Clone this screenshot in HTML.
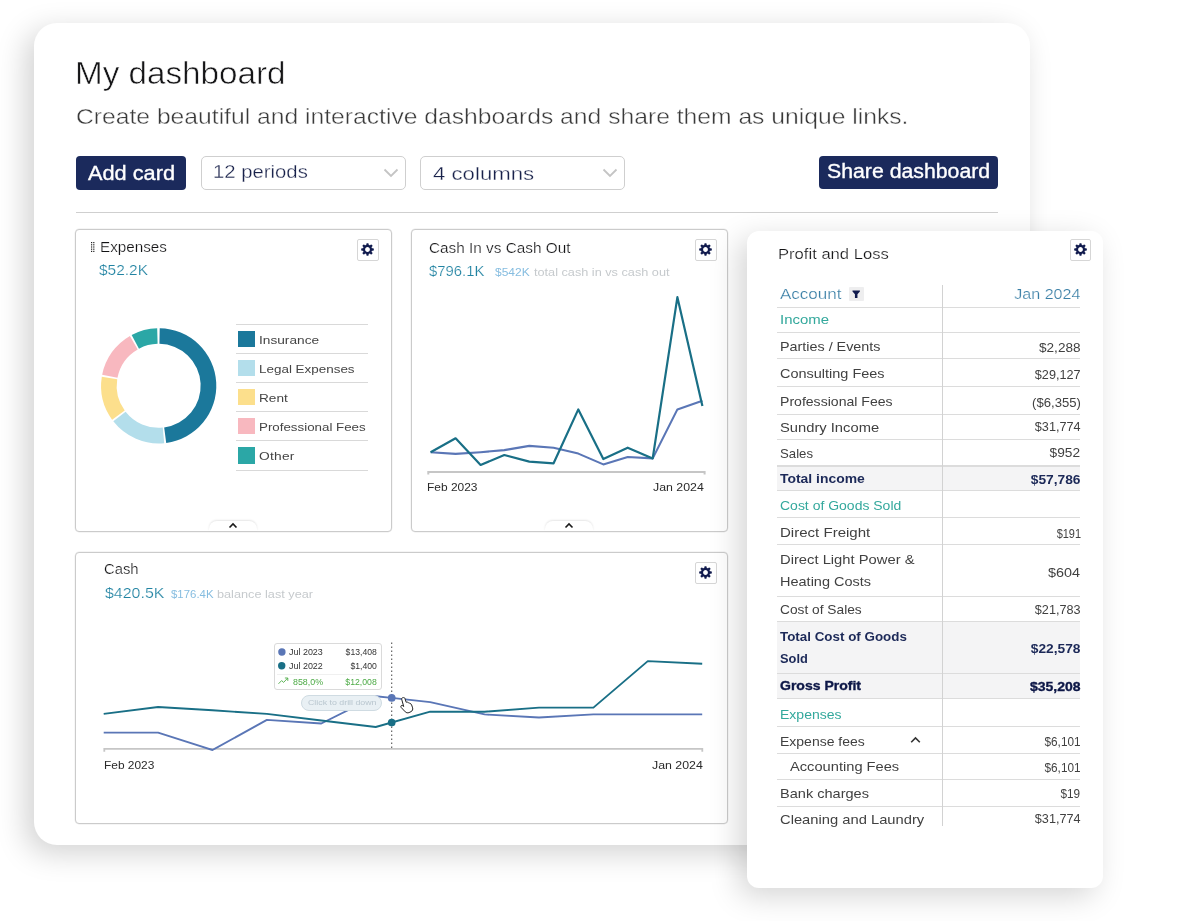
<!DOCTYPE html>
<html><head><meta charset="utf-8"><title>My dashboard</title>
<style>
*{box-sizing:border-box;margin:0;padding:0}
html,body{width:1200px;height:921px;overflow:hidden;background:#fff}
body{position:relative;font-family:"Liberation Sans",sans-serif;}
.t{position:absolute;white-space:nowrap;line-height:1;display:block}
.a{position:absolute}
.card{position:absolute;background:#fff;border:1px solid #cbcbcb;border-radius:4px;box-shadow:0 0 0 .4px rgba(0,0,0,.08)}
.gear{position:absolute;width:21.5px;height:21.5px;border:1px solid #d6d6d6;border-radius:2px;background:#fff}
.gear svg{position:absolute;left:2.25px;top:2.25px}
.hl{position:absolute;height:1px;background:#dcdcdc}
.tab{position:absolute;height:10.2px;width:48px;background:#fff;border-radius:8px 8px 0 0;box-shadow:0 -1px 2px rgba(0,0,0,.10)}
</style></head><body><div id="root" style="position:absolute;left:0;top:0;width:1200px;height:921px;will-change:transform">

<div class="a" style="left:33.5px;top:22.5px;width:996.5px;height:822.7px;background:#fff;border-radius:23px;box-shadow:-8px 8px 30px rgba(0,0,0,.18)"></div>
<span class="t" style="top:59px;font-size:30.9px;color:#151517;left:74.60px;transform-origin:0 50%;transform:scaleX(1.0758);-webkit-text-stroke:.55px #fff;">My dashboard</span>
<span class="t" style="top:106px;font-size:22.2px;color:#3a3a3a;left:76.30px;transform-origin:0 50%;transform:scaleX(1.1119);-webkit-text-stroke:.4px #fff;">Create beautiful and interactive dashboards and share them as unique links.</span>
<div class="a" style="left:76px;top:156px;width:110px;height:33.5px;background:#1b2a5c;border-radius:4px"></div>
<span class="t" style="top:164px;font-size:19.8px;color:#fff;left:88.00px;transform-origin:0 50%;transform:scaleX(1.0987);-webkit-text-stroke:.35px #fff;">Add card</span>
<div class="a" style="left:818.5px;top:156px;width:179.7px;height:33.3px;background:#1b2a5c;border-radius:4px"></div>
<span class="t" style="top:162px;font-size:19.6px;color:#fff;left:826.60px;transform-origin:0 50%;transform:scaleX(1.0855);-webkit-text-stroke:.35px #fff;">Share dashboard</span>
<div class="a" style="left:201px;top:156px;width:205px;height:33.5px;border:1px solid #cfcfcf;border-radius:5px;background:#fff"></div>
<span class="t" style="top:162px;font-size:19.2px;color:#18214a;left:213.20px;transform-origin:0 50%;transform:scaleX(1.0579);-webkit-text-stroke:.3px #fff;">12 periods</span>
<svg class="a" style="left:382px;top:166px" width="18" height="14" viewBox="0 0 18 14"><path d="M2.5 3.5 L9 10 L15.5 3.5" fill="none" stroke="#c4c4c4" stroke-width="1.8"/></svg>
<div class="a" style="left:420px;top:156px;width:205px;height:33.5px;border:1px solid #cfcfcf;border-radius:5px;background:#fff"></div>
<span class="t" style="top:164px;font-size:19.2px;color:#18214a;left:432.80px;transform-origin:0 50%;transform:scaleX(1.1572);-webkit-text-stroke:.3px #fff;">4 columns</span>
<svg class="a" style="left:601px;top:166px" width="18" height="14" viewBox="0 0 18 14"><path d="M2.5 3.5 L9 10 L15.5 3.5" fill="none" stroke="#c4c4c4" stroke-width="1.8"/></svg>
<div class="a" style="left:76px;top:211.5px;width:922px;height:1px;background:#cfcfcf"></div>
<div class="card" style="left:75px;top:229px;width:316.5px;height:302.5px"></div>
<div class="gear" style="left:357px;top:239.2px"><svg width="15" height="15" viewBox="-8 -8 16 16"><g fill="#111b4e"><circle r="3.75" fill="none" stroke="#111b4e" stroke-width="2.4"/><rect x="-1.25" y="-6.75" width="2.5" height="2.7" rx="0.8" transform="rotate(0)"/><rect x="-1.25" y="-6.75" width="2.5" height="2.7" rx="0.8" transform="rotate(45)"/><rect x="-1.25" y="-6.75" width="2.5" height="2.7" rx="0.8" transform="rotate(90)"/><rect x="-1.25" y="-6.75" width="2.5" height="2.7" rx="0.8" transform="rotate(135)"/><rect x="-1.25" y="-6.75" width="2.5" height="2.7" rx="0.8" transform="rotate(180)"/><rect x="-1.25" y="-6.75" width="2.5" height="2.7" rx="0.8" transform="rotate(225)"/><rect x="-1.25" y="-6.75" width="2.5" height="2.7" rx="0.8" transform="rotate(270)"/><rect x="-1.25" y="-6.75" width="2.5" height="2.7" rx="0.8" transform="rotate(315)"/></g></svg></div>
<div class="tab" style="left:209px;top:520.5px"><svg class="a" style="left:19px;top:1.7px" width="10" height="7" viewBox="0 0 10 7"><path d="M1.5 5.5 L5 2.0 L8.5 5.5" fill="none" stroke="#1a1a1a" stroke-width="1.6"/></svg></div>
<div class="card" style="left:411px;top:229px;width:316.5px;height:302.5px"></div>
<div class="gear" style="left:695px;top:239.2px"><svg width="15" height="15" viewBox="-8 -8 16 16"><g fill="#111b4e"><circle r="3.75" fill="none" stroke="#111b4e" stroke-width="2.4"/><rect x="-1.25" y="-6.75" width="2.5" height="2.7" rx="0.8" transform="rotate(0)"/><rect x="-1.25" y="-6.75" width="2.5" height="2.7" rx="0.8" transform="rotate(45)"/><rect x="-1.25" y="-6.75" width="2.5" height="2.7" rx="0.8" transform="rotate(90)"/><rect x="-1.25" y="-6.75" width="2.5" height="2.7" rx="0.8" transform="rotate(135)"/><rect x="-1.25" y="-6.75" width="2.5" height="2.7" rx="0.8" transform="rotate(180)"/><rect x="-1.25" y="-6.75" width="2.5" height="2.7" rx="0.8" transform="rotate(225)"/><rect x="-1.25" y="-6.75" width="2.5" height="2.7" rx="0.8" transform="rotate(270)"/><rect x="-1.25" y="-6.75" width="2.5" height="2.7" rx="0.8" transform="rotate(315)"/></g></svg></div>
<div class="tab" style="left:545px;top:520.5px"><svg class="a" style="left:19px;top:1.7px" width="10" height="7" viewBox="0 0 10 7"><path d="M1.5 5.5 L5 2.0 L8.5 5.5" fill="none" stroke="#1a1a1a" stroke-width="1.6"/></svg></div>
<div class="card" style="left:75px;top:552px;width:652.5px;height:271.5px"></div>
<div class="gear" style="left:695px;top:562.2px"><svg width="15" height="15" viewBox="-8 -8 16 16"><g fill="#111b4e"><circle r="3.75" fill="none" stroke="#111b4e" stroke-width="2.4"/><rect x="-1.25" y="-6.75" width="2.5" height="2.7" rx="0.8" transform="rotate(0)"/><rect x="-1.25" y="-6.75" width="2.5" height="2.7" rx="0.8" transform="rotate(45)"/><rect x="-1.25" y="-6.75" width="2.5" height="2.7" rx="0.8" transform="rotate(90)"/><rect x="-1.25" y="-6.75" width="2.5" height="2.7" rx="0.8" transform="rotate(135)"/><rect x="-1.25" y="-6.75" width="2.5" height="2.7" rx="0.8" transform="rotate(180)"/><rect x="-1.25" y="-6.75" width="2.5" height="2.7" rx="0.8" transform="rotate(225)"/><rect x="-1.25" y="-6.75" width="2.5" height="2.7" rx="0.8" transform="rotate(270)"/><rect x="-1.25" y="-6.75" width="2.5" height="2.7" rx="0.8" transform="rotate(315)"/></g></svg></div>
<svg class="a" style="left:90.8px;top:242.2px" width="5" height="11" viewBox="0 0 5 11"><rect x="0" y="0" width="1.2" height="1.2" fill="#222"/><rect x="0" y="2.2" width="1.2" height="1.2" fill="#222"/><rect x="0" y="4.4" width="1.2" height="1.2" fill="#222"/><rect x="0" y="6.6" width="1.2" height="1.2" fill="#222"/><rect x="0" y="8.8" width="1.2" height="1.2" fill="#222"/><rect x="2.2" y="0" width="1.2" height="1.2" fill="#222"/><rect x="2.2" y="2.2" width="1.2" height="1.2" fill="#222"/><rect x="2.2" y="4.4" width="1.2" height="1.2" fill="#222"/><rect x="2.2" y="6.6" width="1.2" height="1.2" fill="#222"/><rect x="2.2" y="8.8" width="1.2" height="1.2" fill="#222"/></svg>
<span class="t" style="top:241px;font-size:13.8px;color:#121214;left:99.60px;transform-origin:0 50%;transform:scaleX(1.1024);-webkit-text-stroke:0.22px #fff;">Expenses</span>
<span class="t" style="top:262px;font-size:15.5px;color:#2183a2;left:99.00px;transform-origin:0 50%;transform:scaleX(0.9971);-webkit-text-stroke:0.22px #fff;">$52.2K</span>
<svg class="a" style="left:0;top:0" width="1200" height="921" viewBox="0 0 1200 921"><path d="M159.71 328.21 A57.6 57.6 0 0 1 166.22 442.91 L164.18 427.44 A42.0 42.0 0 0 0 159.43 343.81 Z" fill="#1b789b"/><path d="M164.22 443.13 A57.6 57.6 0 0 1 113.31 421.26 L125.60 411.66 A42.0 42.0 0 0 0 162.73 427.61 Z" fill="#b3deeb"/><path d="M112.10 419.66 A57.6 57.6 0 0 1 101.81 376.79 L117.22 379.23 A42.0 42.0 0 0 0 124.72 410.49 Z" fill="#fcdf8c"/><path d="M102.16 374.81 A57.6 57.6 0 0 1 129.90 335.92 L137.70 349.43 A42.0 42.0 0 0 0 117.47 377.79 Z" fill="#f8b8bf"/><path d="M131.66 334.94 A57.6 57.6 0 0 1 157.19 328.22 L157.60 343.81 A42.0 42.0 0 0 0 138.98 348.72 Z" fill="#2ba7a6"/></svg>
<div class="hl" style="left:235.5px;top:323.8px;width:132px;background:#d9d9d9"></div>
<div class="hl" style="left:235.5px;top:352.6px;width:132px;background:#d9d9d9"></div>
<div class="hl" style="left:235.5px;top:381.8px;width:132px;background:#d9d9d9"></div>
<div class="hl" style="left:235.5px;top:411.1px;width:132px;background:#d9d9d9"></div>
<div class="hl" style="left:235.5px;top:440.3px;width:132px;background:#d9d9d9"></div>
<div class="hl" style="left:235.5px;top:469.5px;width:132px;background:#d9d9d9"></div>
<div class="a" style="left:238.3px;top:330.6px;width:16.6px;height:16.3px;background:#1b789b"></div>
<span class="t" style="top:335px;font-size:11.1px;color:#444;left:259.20px;transform-origin:0 50%;transform:scaleX(1.2332);">Insurance</span>
<div class="a" style="left:238.3px;top:359.6px;width:16.6px;height:16.3px;background:#b3deeb"></div>
<span class="t" style="top:364px;font-size:11.1px;color:#444;left:259.20px;transform-origin:0 50%;transform:scaleX(1.2108);">Legal Expenses</span>
<div class="a" style="left:238.3px;top:388.9px;width:16.6px;height:16.3px;background:#fcdf8c"></div>
<span class="t" style="top:393px;font-size:11.1px;color:#444;left:259.20px;transform-origin:0 50%;transform:scaleX(1.2288);">Rent</span>
<div class="a" style="left:238.3px;top:418.1px;width:16.6px;height:16.3px;background:#f8b8bf"></div>
<span class="t" style="top:422px;font-size:11.1px;color:#444;left:259.20px;transform-origin:0 50%;transform:scaleX(1.2016);">Professional Fees</span>
<div class="a" style="left:238.3px;top:447.3px;width:16.6px;height:16.3px;background:#2ba7a6"></div>
<span class="t" style="top:451px;font-size:11.1px;color:#444;left:259.20px;transform-origin:0 50%;letter-spacing:0.200px;transform:scaleX(1.2400);">Other</span>
<span class="t" style="top:242px;font-size:13.8px;color:#121214;left:428.80px;transform-origin:0 50%;transform:scaleX(1.1116);-webkit-text-stroke:0.22px #fff;">Cash In vs Cash Out</span>
<span class="t" style="top:263px;font-size:15.5px;color:#2183a2;left:429.20px;transform-origin:0 50%;transform:scaleX(0.9576);-webkit-text-stroke:0.22px #fff;">$796.1K</span>
<span class="t" style="top:267px;font-size:11.0px;color:#86bde0;left:494.90px;transform-origin:0 50%;transform:scaleX(1.0908);">$542K</span>
<span class="t" style="top:267px;font-size:11.0px;color:#c6cacd;left:534.20px;transform-origin:0 50%;transform:scaleX(1.1541);">total cash in vs cash out</span>
<svg class="a" style="left:0;top:0" width="1200" height="921" viewBox="0 0 1200 921"><path d="M428.3 474.5 V471.9 H704.6 V474.5" fill="none" stroke="#c6c6c6" stroke-width="2"/><polyline points="430.6,452.2 455.6,453.9 480.6,452.2 504.3,450.1 529.3,445.9 553.6,447.7 578.3,453.6 603.3,464.4 627.7,457.0 652.7,458.4 677.4,409.4 702.4,400.7" fill="none" stroke="#5a76b6" stroke-width="2.1" stroke-linejoin="round" stroke-linecap="butt"/><polyline points="430.6,452.2 455.6,438.3 480.6,465.0 504.3,455.0 529.3,461.6 553.6,463.3 578.3,409.4 603.3,459.1 627.7,447.7 652.7,458.4 677.4,297.2 702.4,406.0" fill="none" stroke="#196f86" stroke-width="2.2" stroke-linejoin="round" stroke-linecap="butt"/></svg>
<span class="t" style="top:482px;font-size:10.9px;color:#2a2a2a;left:427.40px;transform-origin:0 50%;transform:scaleX(1.0971);">Feb 2023</span>
<span class="t" style="top:482px;font-size:10.9px;color:#2a2a2a;right:495.80px;transform-origin:100% 50%;transform:scaleX(1.1336);">Jan 2024</span>
<span class="t" style="top:563px;font-size:13.8px;color:#121214;left:104.30px;transform-origin:0 50%;transform:scaleX(1.0739);-webkit-text-stroke:0.22px #fff;">Cash</span>
<span class="t" style="top:585px;font-size:15.4px;color:#2183a2;left:105.20px;transform-origin:0 50%;transform:scaleX(1.0359);-webkit-text-stroke:0.22px #fff;">$420.5K</span>
<span class="t" style="top:589px;font-size:11.0px;color:#86bde0;left:170.50px;transform-origin:0 50%;transform:scaleX(1.0370);">$176.4K</span>
<span class="t" style="top:589px;font-size:11.0px;color:#c6cacd;left:216.50px;transform-origin:0 50%;transform:scaleX(1.1542);">balance last year</span>
<svg class="a" style="left:0;top:0" width="1200" height="921" viewBox="0 0 1200 921"><path d="M104.3 751.8 V748.9 H702.3 V751.8" fill="none" stroke="#c6c6c6" stroke-width="1.8"/><line x1="391.7" y1="642.5" x2="391.7" y2="749" stroke="#555" stroke-width="1.1" stroke-dasharray="1.6 2.4"/><polyline points="103.7,732.6 158.1,732.6 212.5,750.0 266.9,719.9 321.3,723.5 375.7,696.3 391.7,697.9 430.2,702.1 484.6,714.4 539.0,717.5 593.4,714.4 647.8,714.4 702.2,714.4" fill="none" stroke="#5a76b6" stroke-width="1.9" stroke-linejoin="round" stroke-linecap="butt"/><polyline points="103.7,713.9 158.1,707.0 212.5,710.3 266.9,713.9 321.3,720.5 375.7,727.0 430.2,711.7 484.6,711.7 539.0,707.6 593.4,707.6 647.8,661.1 702.2,663.8" fill="none" stroke="#196f86" stroke-width="1.9" stroke-linejoin="round" stroke-linecap="butt"/><circle cx="391.7" cy="697.9" r="3.85" fill="#5a76b6"/><circle cx="391.7" cy="722.6" r="3.85" fill="#196f86"/></svg>
<span class="t" style="top:760px;font-size:10.9px;color:#2a2a2a;left:103.60px;transform-origin:0 50%;transform:scaleX(1.0949);">Feb 2023</span>
<span class="t" style="top:760px;font-size:10.9px;color:#2a2a2a;right:497.70px;transform-origin:100% 50%;transform:scaleX(1.1336);">Jan 2024</span>
<div class="a" style="left:273.5px;top:643px;width:108.5px;height:47px;background:#fff;border:1px solid #dadada;border-radius:3px"></div>
<div class="hl" style="left:277px;top:673.5px;width:101px;background:#f0f0f0"></div>
<svg class="a" style="left:276px;top:646px" width="12" height="26" viewBox="276 646 12 26"><circle cx="281.9" cy="652" r="3.7" fill="#5a76b6"/><circle cx="281.7" cy="665.8" r="3.7" fill="#196f86"/></svg>
<span class="t" style="top:648px;font-size:8.8px;color:#333;left:288.60px;transform-origin:0 50%;transform:scaleX(1.0161);">Jul 2023</span>
<span class="t" style="top:662px;font-size:8.8px;color:#333;left:288.60px;transform-origin:0 50%;transform:scaleX(1.0161);">Jul 2022</span>
<span class="t" style="top:648px;font-size:8.8px;color:#333;right:823.10px;transform-origin:100% 50%;transform:scaleX(0.9807);">$13,408</span>
<span class="t" style="top:662px;font-size:8.8px;color:#333;right:823.10px;transform-origin:100% 50%;transform:scaleX(0.9849);">$1,400</span>
<svg class="a" style="left:277.5px;top:676.5px" width="11" height="8" viewBox="0 0 11 8"><path d="M0.5 6.8 L3.6 3.6 L5.6 5.4 L9.6 1.2 M6.9 1 H9.8 V3.9" fill="none" stroke="#4caa45" stroke-width="0.9"/></svg>
<span class="t" style="top:678px;font-size:8.8px;color:#4caa45;left:293.40px;transform-origin:0 50%;transform:scaleX(1.0052);">858,0%</span>
<span class="t" style="top:678px;font-size:8.8px;color:#4caa45;right:823.30px;transform-origin:100% 50%;transform:scaleX(0.9902);">$12,008</span>
<div class="a" style="left:301.2px;top:695.2px;width:81px;height:15.6px;background:#e9f0f4;border:1px solid #cfdbe2;border-radius:8px"></div>
<span class="t" style="top:699px;font-size:7.7px;color:#b9c6cf;left:307.50px;transform-origin:0 50%;transform:scaleX(1.1452);">Click to drill down</span>
<svg class="a" style="left:399.3px;top:696px" width="16" height="18" viewBox="0 0 16 18"><path d="M4.3 1.6c.7-.3 1.4.1 1.6.8l1.300 3.900 .5-.15c.6-.2 1.200 .1 1.500 .6 .6-.3 1.300 0 1.600 .6l.2 .4c.6-.2 1.300 .1 1.500 .8l1.100 3.300c.5 1.500-.2 3.100-1.600 3.800l-1.900 .9c-1.300 .6-2.800 .3-3.800-.7L2.200 11.500c-.5-.5-.5-1.200-.1-1.700 .4-.5 1.200-.5 1.700-.1l.9 .8L2.700 3.300c-.2-.7 .2-1.400 .9-1.600z" fill="#fff" stroke="#222" stroke-width="1" stroke-linejoin="round"/></svg>
<div class="a" style="left:746.5px;top:230.5px;width:356px;height:657.5px;background:#fff;border-radius:12px;box-shadow:-8px 8px 30px rgba(0,0,0,.17)"></div>
<div class="gear" style="left:1069.5px;top:239.2px"><svg width="15" height="15" viewBox="-8 -8 16 16"><g fill="#111b4e"><circle r="3.75" fill="none" stroke="#111b4e" stroke-width="2.4"/><rect x="-1.25" y="-6.75" width="2.5" height="2.7" rx="0.8" transform="rotate(0)"/><rect x="-1.25" y="-6.75" width="2.5" height="2.7" rx="0.8" transform="rotate(45)"/><rect x="-1.25" y="-6.75" width="2.5" height="2.7" rx="0.8" transform="rotate(90)"/><rect x="-1.25" y="-6.75" width="2.5" height="2.7" rx="0.8" transform="rotate(135)"/><rect x="-1.25" y="-6.75" width="2.5" height="2.7" rx="0.8" transform="rotate(180)"/><rect x="-1.25" y="-6.75" width="2.5" height="2.7" rx="0.8" transform="rotate(225)"/><rect x="-1.25" y="-6.75" width="2.5" height="2.7" rx="0.8" transform="rotate(270)"/><rect x="-1.25" y="-6.75" width="2.5" height="2.7" rx="0.8" transform="rotate(315)"/></g></svg></div>
<span class="t" style="top:247px;font-size:14.6px;color:#121214;left:778.00px;transform-origin:0 50%;transform:scaleX(1.1381);-webkit-text-stroke:0.22px #fff;">Profit and Loss</span>
<div class="a" style="left:777.3px;top:466.3px;width:303.20000000000005px;height:24.19999999999999px;background:#f4f4f5"></div>
<div class="a" style="left:777.3px;top:622px;width:303.20000000000005px;height:76.29999999999995px;background:#f4f4f5"></div>
<div class="hl" style="left:777.3px;top:306.5px;width:303.20000000000005px;height:1.2px;background:#dcdcdc"></div>
<div class="hl" style="left:777.3px;top:331.9px;width:303.20000000000005px;height:1.2px;background:#dcdcdc"></div>
<div class="hl" style="left:777.3px;top:358.2px;width:303.20000000000005px;height:1.2px;background:#dcdcdc"></div>
<div class="hl" style="left:777.3px;top:385.8px;width:303.20000000000005px;height:1.2px;background:#dcdcdc"></div>
<div class="hl" style="left:777.3px;top:414.3px;width:303.20000000000005px;height:1.2px;background:#dcdcdc"></div>
<div class="hl" style="left:777.3px;top:439.2px;width:303.20000000000005px;height:1.2px;background:#dcdcdc"></div>
<div class="hl" style="left:777.3px;top:465.4px;width:303.20000000000005px;height:1.2px;background:#dcdcdc"></div>
<div class="hl" style="left:777.3px;top:490.0px;width:303.20000000000005px;height:1.2px;background:#dcdcdc"></div>
<div class="hl" style="left:777.3px;top:516.9px;width:303.20000000000005px;height:1.2px;background:#dcdcdc"></div>
<div class="hl" style="left:777.3px;top:544.1px;width:303.20000000000005px;height:1.2px;background:#dcdcdc"></div>
<div class="hl" style="left:777.3px;top:595.8px;width:303.20000000000005px;height:1.2px;background:#dcdcdc"></div>
<div class="hl" style="left:777.3px;top:621.2px;width:303.20000000000005px;height:1.2px;background:#dcdcdc"></div>
<div class="hl" style="left:777.3px;top:673.0px;width:303.20000000000005px;height:1.2px;background:#dcdcdc"></div>
<div class="hl" style="left:777.3px;top:697.7px;width:303.20000000000005px;height:1.2px;background:#dcdcdc"></div>
<div class="hl" style="left:777.3px;top:726.0px;width:303.20000000000005px;height:1.2px;background:#dcdcdc"></div>
<div class="hl" style="left:777.3px;top:752.8px;width:303.20000000000005px;height:1.2px;background:#dcdcdc"></div>
<div class="hl" style="left:777.3px;top:779.3px;width:303.20000000000005px;height:1.2px;background:#dcdcdc"></div>
<div class="hl" style="left:777.3px;top:805.5px;width:303.20000000000005px;height:1.2px;background:#dcdcdc"></div>
<div class="a" style="left:941.7px;top:284.5px;width:1.1px;height:541.5px;background:#d2d2d2"></div>
<span class="t" style="top:287px;font-size:14.7px;color:#3a7fa6;left:779.60px;transform-origin:0 50%;transform:scaleX(1.1587);-webkit-text-stroke:0.22px #fff;">Account</span>
<div class="a" style="left:849.3px;top:286.7px;width:14.8px;height:14.8px;background:#eeeeef;border-radius:1px"></div>
<svg class="a" style="left:852.2px;top:290.3px" width="8.4" height="8.4" viewBox="0 0 10 10"><path d="M0.6 0.6 H9.4 V1.9 L6.5 5.0 V9.4 H3.5 V5.0 L0.6 1.9 Z" fill="#111b4e"/></svg>
<span class="t" style="top:287px;font-size:14.7px;color:#3a7fa6;right:119.50px;transform-origin:100% 50%;transform:scaleX(1.0953);-webkit-text-stroke:0.22px #fff;">Jan 2024</span>
<span class="t" style="top:314px;font-size:12.6px;color:#33a89c;left:779.60px;transform-origin:0 50%;transform:scaleX(1.1861);">Income</span>
<span class="t" style="top:341px;font-size:12.6px;color:#414141;left:779.60px;transform-origin:0 50%;transform:scaleX(1.1394);">Parties / Events</span>
<span class="t" style="top:342px;font-size:12.6px;color:#414141;right:119.50px;transform-origin:100% 50%;transform:scaleX(1.0770);">$2,288</span>
<span class="t" style="top:368px;font-size:12.6px;color:#414141;left:779.60px;transform-origin:0 50%;transform:scaleX(1.1493);">Consulting Fees</span>
<span class="t" style="top:369px;font-size:12.6px;color:#414141;right:119.50px;transform-origin:100% 50%;transform:scaleX(1.0037);">$29,127</span>
<span class="t" style="top:396px;font-size:12.6px;color:#414141;left:779.60px;transform-origin:0 50%;transform:scaleX(1.1169);">Professional Fees</span>
<span class="t" style="top:397px;font-size:12.6px;color:#414141;right:119.50px;transform-origin:100% 50%;transform:scaleX(1.0400);">($6,355)</span>
<span class="t" style="top:422px;font-size:12.6px;color:#414141;left:779.60px;transform-origin:0 50%;transform:scaleX(1.1700);">Sundry Income</span>
<span class="t" style="top:421px;font-size:12.6px;color:#414141;right:119.50px;transform-origin:100% 50%;transform:scaleX(1.0037);">$31,774</span>
<span class="t" style="top:448px;font-size:12.6px;color:#414141;left:779.60px;transform-origin:0 50%;transform:scaleX(1.0471);">Sales</span>
<span class="t" style="top:447px;font-size:12.6px;color:#414141;right:119.50px;transform-origin:100% 50%;transform:scaleX(1.0881);">$952</span>
<span class="t" style="top:473px;font-size:12.6px;color:#1c2958;font-weight:700;left:779.60px;transform-origin:0 50%;transform:scaleX(1.1049);">Total income</span>
<span class="t" style="top:474px;font-size:12.6px;color:#1c2958;font-weight:700;right:119.50px;transform-origin:100% 50%;transform:scaleX(1.0938);">$57,786</span>
<span class="t" style="top:500px;font-size:12.6px;color:#33a89c;left:779.60px;transform-origin:0 50%;transform:scaleX(1.1106);">Cost of Goods Sold</span>
<span class="t" style="top:527px;font-size:12.6px;color:#414141;left:779.60px;transform-origin:0 50%;transform:scaleX(1.1945);">Direct Freight</span>
<span class="t" style="top:528px;font-size:12.6px;color:#414141;right:118.90px;transform-origin:100% 50%;transform:scaleX(0.8705);">$191</span>
<span class="t" style="top:554px;font-size:12.6px;color:#414141;left:779.60px;transform-origin:0 50%;transform:scaleX(1.1716);">Direct Light Power &amp;</span>
<span class="t" style="top:567px;font-size:12.6px;color:#414141;right:119.50px;transform-origin:100% 50%;transform:scaleX(1.1416);">$604</span>
<span class="t" style="top:576px;font-size:12.6px;color:#414141;left:779.60px;transform-origin:0 50%;transform:scaleX(1.1516);">Heating Costs</span>
<span class="t" style="top:604px;font-size:12.6px;color:#414141;left:779.60px;transform-origin:0 50%;transform:scaleX(1.0907);">Cost of Sales</span>
<span class="t" style="top:604px;font-size:12.6px;color:#414141;right:119.50px;transform-origin:100% 50%;transform:scaleX(1.0037);">$21,783</span>
<span class="t" style="top:631px;font-size:12.6px;color:#1c2958;font-weight:700;left:779.60px;transform-origin:0 50%;transform:scaleX(1.0628);">Total Cost of Goods</span>
<span class="t" style="top:643px;font-size:12.6px;color:#1c2958;font-weight:700;right:119.50px;transform-origin:100% 50%;transform:scaleX(1.0938);">$22,578</span>
<span class="t" style="top:653px;font-size:12.6px;color:#1c2958;font-weight:700;left:779.60px;transform-origin:0 50%;transform:scaleX(1.0184);">Sold</span>
<span class="t" style="top:680px;font-size:12.6px;color:#0d1747;font-weight:700;left:779.60px;transform-origin:0 50%;transform:scaleX(1.1129);-webkit-text-stroke:.35px #0d1747;">Gross Profit</span>
<span class="t" style="top:681px;font-size:12.6px;color:#0d1747;font-weight:700;right:119.80px;transform-origin:100% 50%;transform:scaleX(1.1113);-webkit-text-stroke:.35px #0d1747;">$35,208</span>
<span class="t" style="top:709px;font-size:12.6px;color:#33a89c;left:779.60px;transform-origin:0 50%;transform:scaleX(1.1119);">Expenses</span>
<span class="t" style="top:736px;font-size:12.6px;color:#414141;left:779.60px;transform-origin:0 50%;transform:scaleX(1.1110);">Expense fees</span>
<span class="t" style="top:736px;font-size:12.6px;color:#414141;right:119.50px;transform-origin:100% 50%;transform:scaleX(0.9343);">$6,101</span>
<svg class="a" style="left:909.5px;top:736px" width="11" height="8" viewBox="0 0 11 8"><path d="M1.2 6.2 L5.5 1.9 L9.8 6.2" fill="none" stroke="#333" stroke-width="1.6"/></svg>
<span class="t" style="top:761px;font-size:12.6px;color:#414141;left:789.80px;transform-origin:0 50%;transform:scaleX(1.1640);">Accounting Fees</span>
<span class="t" style="top:762px;font-size:12.6px;color:#414141;right:119.50px;transform-origin:100% 50%;transform:scaleX(0.9343);">$6,101</span>
<span class="t" style="top:788px;font-size:12.6px;color:#414141;left:779.60px;transform-origin:0 50%;transform:scaleX(1.1556);">Bank charges</span>
<span class="t" style="top:788px;font-size:12.6px;color:#414141;right:119.50px;transform-origin:100% 50%;transform:scaleX(0.9326);">$19</span>
<span class="t" style="top:814px;font-size:12.6px;color:#414141;left:779.60px;transform-origin:0 50%;transform:scaleX(1.1701);">Cleaning and Laundry</span>
<span class="t" style="top:813px;font-size:12.6px;color:#414141;right:119.50px;transform-origin:100% 50%;transform:scaleX(1.0037);">$31,774</span>
</div></body></html>
